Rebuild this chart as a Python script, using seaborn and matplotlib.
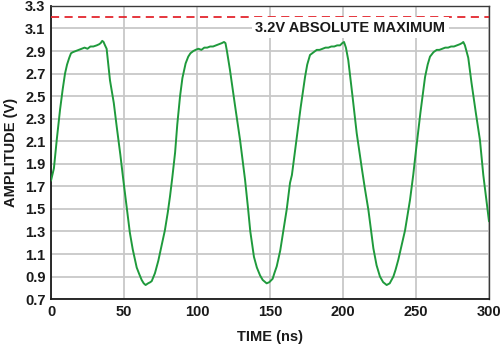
import matplotlib
matplotlib.use("Agg")
import matplotlib.pyplot as plt
import seaborn as sns
import pandas as pd

# Captured waveform: time (ns) and amplitude (V)
time_ns = [
    0, 2, 4, 6.2, 8, 9.6, 11, 12.5, 13.7, 15, 17, 19, 21, 23, 25, 27, 29, 31.3, 33, 34, 35.1, 36, 37, 38.1,
    40.4, 43, 45, 47.5, 49.5, 52, 54, 56, 58.7, 60.5, 62.1, 63.5, 64.8, 66.5, 68, 69, 71.2, 73.5, 75.8,
    78, 80, 81.5, 83.1,
    85, 86.5, 88.4, 90, 92.2, 94, 95.5, 97.5, 99, 101, 103, 105, 107, 109, 111, 113, 115, 117, 118.5,
    119.5, 120.5, 122.6, 126, 129.5, 132.9, 135, 136.5, 139, 141, 143.2, 145, 147.7, 149.5, 151.8, 153,
    154.6, 157, 159.1, 161.5, 163.7, 165,
    168, 171, 174, 175.5, 177.4, 180, 182, 184, 186, 188, 190, 192, 194, 196, 198, 199.5, 200.7, 202,
    203.6, 206.5, 209.4, 213, 215, 217.4, 220.8, 223, 225.3, 227.5, 229.9, 232, 234.5, 236, 237.9, 240,
    242.5, 245.9, 248.1,
    250, 253, 256.2, 258, 259.6, 262, 264.2, 266, 268, 270, 272, 274, 276, 278, 280, 281.5, 282.4, 283.5,
    285.8, 288, 291, 293.8, 296.1, 298, 300,
]
amplitude_v = [
    1.75, 1.86, 2.12, 2.38, 2.56, 2.70, 2.78, 2.84, 2.88, 2.89, 2.90, 2.91, 2.92, 2.93, 2.92, 2.94, 2.94, 2.95, 2.96, 2.97, 2.99, 2.98, 2.95, 2.92,
    2.64, 2.44, 2.23, 1.98, 1.76, 1.50, 1.29, 1.14, 0.98, 0.92, 0.87, 0.84, 0.825, 0.84, 0.85, 0.86, 0.93, 1.04, 1.18,
    1.31, 1.47, 1.61, 1.78,
    2.00, 2.25, 2.50, 2.66, 2.79, 2.85, 2.88, 2.90, 2.91, 2.92, 2.91, 2.93, 2.93, 2.94, 2.94, 2.95, 2.96, 2.97, 2.98,
    2.97, 2.90, 2.73, 2.42, 2.11, 1.76, 1.50, 1.30, 1.075, 0.98, 0.91, 0.87, 0.84, 0.85, 0.88, 0.93,
    0.99, 1.13, 1.30, 1.50, 1.73, 1.80,
    2.10, 2.40, 2.67, 2.78, 2.865, 2.89, 2.91, 2.91, 2.92, 2.93, 2.93, 2.94, 2.94, 2.95, 2.95, 2.97, 2.98, 2.93,
    2.82, 2.50, 2.17, 1.85, 1.68, 1.49, 1.15, 1.00, 0.90, 0.85, 0.825, 0.84, 0.90, 0.96, 1.05, 1.17,
    1.31, 1.58, 1.80,
    2.02, 2.35, 2.67, 2.78, 2.85, 2.89, 2.91, 2.91, 2.92, 2.93, 2.93, 2.94, 2.94, 2.95, 2.96, 2.97, 2.98, 2.95,
    2.84, 2.62, 2.35, 2.11, 1.80, 1.60, 1.39,
]
abs_max_v = 3.2
abs_max_label = "3.2V ABSOLUTE MAXIMUM"
x_ticks = [0, 50, 100, 150, 200, 250, 300]
y_ticks = [0.7, 0.9, 1.1, 1.3, 1.5, 1.7, 1.9, 2.1, 2.3, 2.5, 2.7, 2.9, 3.1, 3.3]

sns.set_style("white")
plt.rcParams["font.family"] = ["Liberation Sans", "DejaVu Sans"]
plt.rcParams["font.weight"] = "bold"

df = pd.DataFrame({"time": time_ns, "amp": amplitude_v})

fig = plt.figure(figsize=(5.0, 3.47), dpi=100)
ax = fig.add_axes([0.102, 0.138, 0.876, 0.845])

sns.lineplot(data=df, x="time", y="amp", ax=ax, color="#1f9a3c", linewidth=1.4, zorder=3)
ax.axhline(abs_max_v, color="#e3262e", linewidth=1.3, linestyle=(0, (4.5, 3)), zorder=3)

ax.text(140, 3.105, abs_max_label, ha="left", va="center", fontsize=10.5, fontweight="bold",
        color="#1a1a1a", zorder=4,
        bbox=dict(facecolor="white", edgecolor="none", pad=2.5))

ax.set_xlim(0, 300)
ax.set_ylim(0.7, 3.3)
ax.set_xticks(x_ticks)
ax.set_yticks(y_ticks)
ax.set_yticklabels([f"{v:.1f}" for v in y_ticks])
ax.grid(True, color="#c8c8c8", linewidth=1.3, zorder=0)
ax.set_axisbelow(True)
ax.tick_params(axis="both", labelsize=10.5, length=0, pad=4, colors="#1a1a1a")
for lab in ax.get_xticklabels() + ax.get_yticklabels():
    lab.set_fontweight("bold")

ax.set_xlabel("TIME (ns)", fontsize=10.5, fontweight="bold", color="#1a1a1a", labelpad=8)
ax.set_ylabel("AMPLITUDE (V)", fontsize=10.5, fontweight="bold", color="#1a1a1a", labelpad=5)

for side in ["left", "bottom"]:
    ax.spines[side].set_color("#1a1a1a")
    ax.spines[side].set_linewidth(1.3)
for side in ["top", "right"]:
    ax.spines[side].set_color("#3a3a3a")
    ax.spines[side].set_linewidth(1.0)

fig.savefig("out.png", dpi=100)
